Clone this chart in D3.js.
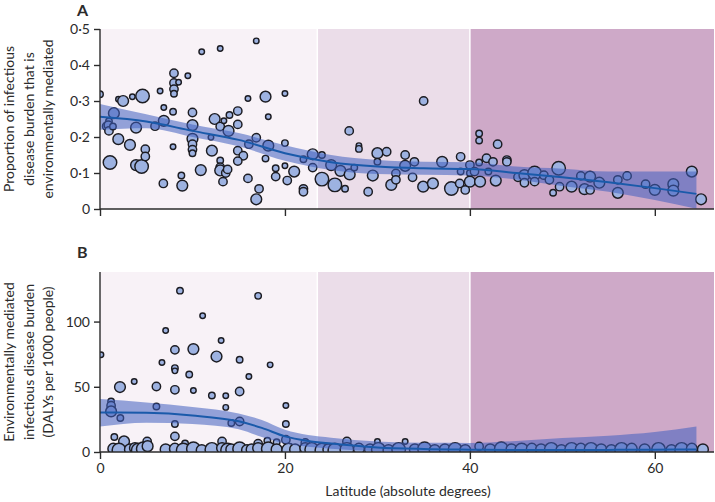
<!DOCTYPE html>
<html><head><meta charset="utf-8">
<script src="https://cdn.jsdelivr.net/npm/d3@7"></script>
<style>
body{margin:0;background:#fff;}
svg{display:block;}
text{font-family:Lato,"Open Sans",sans-serif;fill:#2b2b2b;}
</style></head><body>
<svg id="c" width="715" height="502"></svg>
<script>
// ---------- DATA ----------
const zoneBreaks = [0, 23.5, 40, 66.4];
const xTicks = [0, 20, 40, 60];
const yTicksA = [0, 0.1, 0.2, 0.3, 0.4, 0.5];
const yTicksB = [0, 50, 100];

// Panel A: latitude, proportion, population weight
const latA = [0,0.72,0.97,0.9,0.97,1.4,1.08,1.5,2.0,2.5,1.98,3.24,3.5,3.9,3.9,4.5,4.6,4.9,4.9,5.95,6.5,6.9,6.9,6.85,8.0,8.0,8.0,8.0,8.5,7.9,7.9,8.8,8.9,9.5,10,10,10,10,10,10,11,10.9,12.1,12.4,13,13,12,13,13,13,13.4,13.3,13.6,13.8,14,13.9,14.9,14.9,14.9,15.5,14.9,16,16.1,16,16.9,16.9,16.9,17.2,17.9,17.9,18.2,18.2,19,19,20,20,20,20.25,21,22,22,22,23,23,24,24,25,25.4,26,26.5,26.95,27,27.5,28,28,29,29.5,30,30,31,31.5,32,32,33,33,34,33.8,35,34.95,36,37,38,39,39,38.9,39.5,40,40,40,40.5,41.1,41,41,41,41.8,42.5,43,42,42.8,44,44,45.2,45.9,45.9,47,47,48,48.6,49,49.6,49.7,51,52,53,52.4,53,54,56,56,57,59,60,62,62,64,65];
const valA = [0.319,0.23,0.244,0.233,0.217,0.229,0.129,0.266,0.305,0.30,0.194,0.178,0.312,0.226,0.122,0.118,0.314,0.166,0.146,0.23,0.328,0.282,0.245,0.071,0.377,0.35,0.333,0.32,0.352,0.27,0.173,0.093,0.065,0.37,0.268,0.233,0.195,0.18,0.165,0.155,0.437,0.108,0.162,0.25,0.446,0.229,0.199,0.135,0.116,0.107,0.245,0.076,0.1,0.11,0.261,0.217,0.272,0.235,0.162,0.148,0.133,0.307,0.18,0.085,0.467,0.198,0.027,0.056,0.312,0.14,0.256,0.176,0.113,0.09,0.321,0.183,0.12,0.079,0.104,0.138,0.056,0.048,0.152,0.115,0.15,0.083,0.122,0.067,0.106,0.056,0.217,0.096,0.115,0.176,0.167,0.048,0.093,0.155,0.131,0.159,0.067,0.099,0.081,0.15,0.12,0.131,0.088,0.30,0.062,0.071,0.131,0.057,0.145,0.104,0.071,0.053,0.122,0.1,0.076,0.104,0.076,0.21,0.19,0.129,0.141,0.131,0.18,0.104,0.079,0.136,0.131,0.088,0.094,0.073,0.1,0.076,0.094,0.081,0.045,0.113,0.062,0.062,0.092,0.09,0.055,0.053,0.073,0.081,0.045,0.092,0.069,0.053,0.069,0.051,0.104,0.027];
const popA = [3,10,3,10,10,3,50,25,1,25,25,25,1,25,25,50,50,10,10,10,1,1,25,10,10,10,10,3,1,3,1,3,25,1,10,25,25,10,10,3,1,25,25,25,1,10,1,3,10,25,1,10,10,10,3,25,10,10,10,10,10,1,10,10,1,10,25,10,25,3,1,25,3,10,1,3,1,10,25,3,10,10,25,10,3,50,25,50,25,3,10,25,3,1,3,10,25,25,3,10,25,10,10,10,25,10,10,10,25,25,25,50,10,3,10,10,10,3,25,10,25,3,3,3,10,10,10,3,25,10,10,10,25,10,50,10,10,10,3,50,10,25,10,25,25,10,25,10,25,10,10,25,25,25,25,25];

// Panel A smoother (fitted line and confidence band)
const fitLatA = [0,5,10,15,20,25,30,35,40,45,50,55,60,64.5];
const fitMidA = [0.256,0.243,0.217,0.192,0.155,0.130,0.118,0.113,0.111,0.100,0.088,0.074,0.058,0.042];
const fitLoA  = [0.220,0.224,0.200,0.174,0.134,0.108,0.097,0.095,0.093,0.082,0.064,0.048,0.025,0.001];
const fitHiA  = [0.292,0.263,0.235,0.211,0.177,0.150,0.136,0.131,0.130,0.118,0.112,0.104,0.104,0.104];

// Panel B: latitude, DALYs per 1000, population weight
const latB = [0.1,8.65,17.1,11.1,7.1,13.1,8.1,10.1,12.6,6.7,15.1,18.4,8.1,8.1,9.65,16.1,2.16,3.7,6.1,8.1,10.1,12.1,13.6,15.1,13.6,20.1,1.2,1.2,1.2,2.2,6.1,8.1,14.2,15.1,20.1,8.1,1.55,20.1,2.6,5.1,9.2,13.2,17.1,18.1,19.1,22.2,26.7,30,33,41,
  1.44,2.05,3.24,3.78,4.14,4.68,5.15,7.1,8.1,9.0,10.1,11,12.1,13.2,13.8,14.2,15.1,15.9,16.4,17.1,18.2,19.1,20.4,21.1,22.2,22.9,24,24.7,25.4,26.7,28,29.2,30.1,31.2,32.3,
  34.05,35.1,36.2,37.3,38.4,39.5,42.2,43.4,44.5,45.6,46.7,47.7,48.8,49.9,51,52,53.1,54.2,55.3,56.4,57.5,58.9,60.4,61.8,62.9,64,65.2];
const valB = [74.5,123.7,119.7,104.4,93.1,85.5,78.3,78.9,73.2,68.6,70.7,66.8,64.3,62.2,59.4,57.9,49.8,54.1,50.2,47.7,47.2,43.3,43.1,46.4,34.2,35.7,38.7,35.5,31.1,26,34.9,21.4,22.2,23.4,21.4,12,11.5,9.4,8.1,8.1,6.6,8.1,6.4,8.7,7.5,6.9,8.1,8.1,8.1,4.3,
  2.5,1.5,2,3,1.5,2.5,4.5,2,2.5,1.5,2.5,1.5,2,3,1.5,2,2.5,1.5,2,3,2.5,2,1.5,2,3,2,1.5,2,1.5,2,2.5,2,2,1.5,2,
  2,2.5,1.5,2,2,1.5,2,2.5,2,1.5,2.5,2,2,1.5,2,2.5,2,2,1.5,2,2.5,2,2,1.5,2,2.5,2];
const popB = [1,3,3,1,1,1,10,25,25,1,3,1,3,1,3,1,25,1,10,10,1,3,1,10,1,1,3,10,25,3,3,3,3,10,3,10,3,10,25,10,3,10,10,3,3,10,10,1,1,10,
  25,50,25,25,50,50,25,25,25,50,50,25,50,25,50,25,50,25,25,25,50,25,50,25,25,50,50,25,50,50,25,25,50,25,50,
  25,50,25,25,50,25,25,50,25,50,25,25,50,25,50,25,50,25,25,50,25,25,50,25,50,25,25];

// Panel B smoother
const fitLatB = [0,5,10,15,17.5,20,22.5,25,30,35,40,45,50,55,60,64.5];
const fitMidB = [30.3,30,28,23.5,18.5,12,8.5,6.5,3.5,2.3,1.8,1.5,1.5,1.6,1.8,2.0];
const fitLoB  = [19.6,22.5,21.5,17.5,11.5,6.5,4,2.5,0.5,-1,-2,-4,-6,-8,-11,-15];
const fitHiB  = [40.6,38,34.5,29.5,24.5,17,13,11,8,7,6.9,8.5,10.7,12.5,15.3,19.6];

// ---------- DRAW ----------
const svg = d3.select("#c");
const x = d3.scaleLinear().domain([0, 66.4]).range([100, 714]);
const r = d3.scaleSqrt().domain([0, 60]).range([2.1, 7.2]);
const zoneColors = ["#f8f2f7", "#ebdde9", "#cea9c8"];

function panel(id, y, lats, vals, pops, fLat, fMid, fLo, fHi, yTicks, fmt, label, letter, letterY) {
  const [y0, y1] = y.range();
  const g = svg.append("g");
  g.append("clipPath").attr("id", "clip" + id)
    .append("rect").attr("x", x(0)).attr("y", y1).attr("width", x(66.4) - x(0)).attr("height", y0 - y1);
  const zones = d3.range(3).map(i => ({a: zoneBreaks[i], b: zoneBreaks[i+1], c: zoneColors[i]}));
  g.selectAll("rect.zone").data(zones).join("rect").attr("class", "zone")
    .attr("x", d => x(d.a)).attr("width", d => x(d.b) - x(d.a))
    .attr("y", y1).attr("height", y0 - y1).attr("fill", d => d.c);
  g.selectAll("line.sep").data([23.5, 40]).join("line").attr("class", "sep")
    .attr("x1", d => x(d)).attr("x2", d => x(d)).attr("y1", y1).attr("y2", y0)
    .attr("stroke", "#fff").attr("stroke-width", 1.5);

  const inner = g.append("g").attr("clip-path", `url(#clip${id})`);
  const pts = lats.map((l, i) => ({l, v: vals[i], p: pops[i]}));
  inner.selectAll("circle").data(pts).join("circle")
    .attr("cx", d => x(d.l)).attr("cy", d => y(d.v)).attr("r", d => r(d.p))
    .attr("fill", "#9db2e1").attr("stroke", "#1c1c22").attr("stroke-width", 1.45);

  const fit = fLat.map((l, i) => ({l, m: fMid[i], lo: fLo[i], hi: fHi[i]}));
  inner.append("path").datum(fit)
    .attr("d", d3.area().curve(d3.curveMonotoneX).x(d => x(d.l)).y0(d => y(d.lo)).y1(d => y(d.hi)))
    .attr("fill", "#3f5fbf").attr("fill-opacity", 0.55);
  inner.append("path").datum(fit)
    .attr("d", d3.line().curve(d3.curveMonotoneX).x(d => x(d.l)).y(d => y(d.m)))
    .attr("fill", "none").attr("stroke", "#1a5aaa").attr("stroke-width", 2);

  // axes
  const ax = g.append("g").attr("transform", `translate(0,${y0})`)
    .call(d3.axisBottom(x).tickValues(xTicks).tickSize(7).tickSizeOuter(0).tickPadding(4)
      .tickFormat(id === "B" ? d3.format("d") : () => ""));
  const ay = g.append("g").attr("transform", `translate(${x(0)},0)`)
    .call(d3.axisLeft(y).tickValues(yTicks).tickSize(6).tickSizeOuter(0).tickPadding(4).tickFormat(fmt));
  [ax, ay].forEach(a => {
    a.select(".domain").attr("stroke", "#2b2b2b").attr("stroke-width", 1.4);
    a.selectAll(".tick line").attr("stroke", "#2b2b2b").attr("stroke-width", 1.4);
    a.selectAll(".tick text").attr("font-family", "Lato").attr("font-size", 14).attr("fill", "#2b2b2b");
  });
  ay.select(".domain").attr("d", `M0,${y0}V${y1}`);
  ax.select(".domain").attr("d", `M${x(0)},0H${x(66.4)}`);

  const cy = (y0 + y1) / 2;
  const t = g.append("text").attr("transform", `translate(0,${cy}) rotate(-90)`)
    .attr("text-anchor", "middle").attr("font-size", 14);
  label.forEach((s, i) => t.append("tspan").attr("x", 0).attr("y", 14 + i * 19.5).text(s));

  g.append("text").attr("x", 77).attr("y", letterY).attr("font-size", 16).attr("font-weight", "bold").text(letter);
}

const yA = d3.scaleLinear().domain([0, 0.5]).range([209, 29]);
const yB = d3.scaleLinear().domain([0, 138]).range([452, 272]);
const fmtA = d => d === 0 ? "0" : d3.format(".1f")(d).replace(".", "·");

panel("A", yA, latA, valA, popA, fitLatA, fitMidA, fitLoA, fitHiA, yTicksA, fmtA,
  ["Proportion of infectious", "disease burden that is", "environmentally mediated"], "A", 16);
panel("B", yB, latB, valB, popB, fitLatB, fitMidB, fitLoB, fitHiB, yTicksB, d3.format("d"),
  ["Environmentally mediated", "infectious disease burden", "(DALYs per 1000 people)"], "B", 258);

svg.append("text").attr("x", 408).attr("y", 496).attr("text-anchor", "middle")
  .attr("font-size", 14).text("Latitude (absolute degrees)");
</script></body></html>
